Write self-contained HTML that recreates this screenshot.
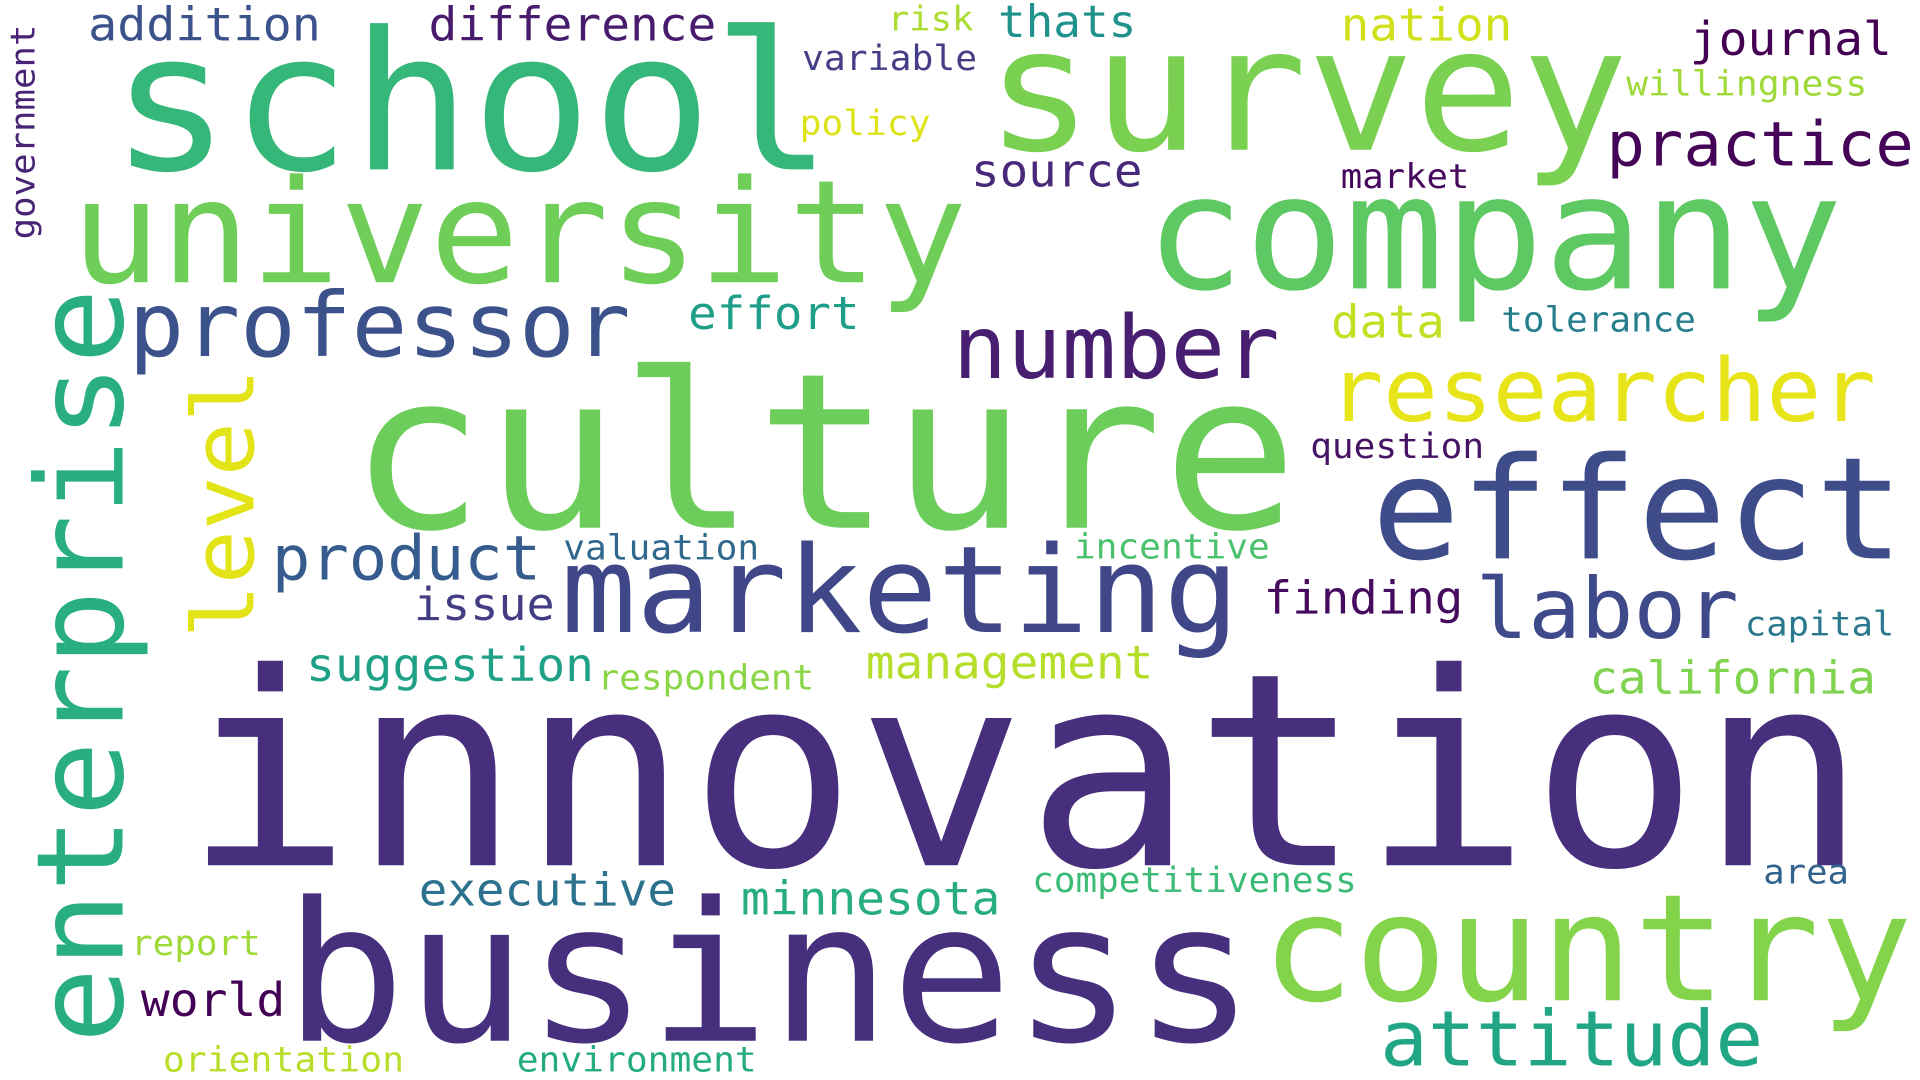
<!DOCTYPE html>
<html><head><meta charset="utf-8"><style>
html,body{margin:0;padding:0;background:#fff;width:1920px;height:1080px;overflow:hidden}
svg{display:block}
text{font-family:"DejaVu Sans Mono","Liberation Mono",monospace}
</style></head><body>
<svg id="cloud" width="1920" height="1080" viewBox="0 0 1568 880" preserveAspectRatio="none" xmlns="http://www.w3.org/2000/svg"></svg>
<script>
const words=["innovation","business","culture","school","survey","university","company","effect","marketing","country","professor","number","researcher","labor","product","practice","attitude","addition","difference","thats","risk","nation","journal","variable","willingness","policy","source","market","effort","data","tolerance","question","valuation","incentive","issue","finding","capital","suggestion","respondent","management","california","executive","minnesota","competitiveness","area","report","world","orientation","environment"];
const colors=["#472f7d","#46307e","#6ccd5a","#35b779","#7ad151","#6ece58","#5ec962","#3e4c8a","#3f4788","#84d44b","#3b528b","#481f70","#e7e419","#3e4a89","#365c8d","#450457","#21a685","#3b528b","#481b6d","#20928c","#addc30","#d0e11c","#440154","#433e85","#9fda3a","#dde318","#482878","#46085c","#1f9e89","#c2df23","#277f8e","#471365","#31688e","#4ac16d","#433d84","#460b5e","#2a788e","#1fa187","#8bd646","#b5de2b","#7fd34e","#2c718e","#27ad81","#3bbb75","#33638d","#a0da39","#440256","#b8de29","#25ab82"];
const L=[[150,705,1525],[232,848,1025],[285,430,1060],[90,138,680],[805,122,1330],[58,230,790],[935,235,1505],[1120,455,1555],[458,515,1012],[1030,815,1562],[105,290,515],[778,308,1045],[1085,343,1532],[1205,520,1420],[222,472,442],[1312,135,1563],[1127,868,1440],[72,33,262],[350,33,585],[815,30,928],[725,25,795],[1095,33,1235],[1380,45,1545],[655,57,798],[1328,78,1525],[653,110,760],[793,152,933],[1095,153,1200],[562,268,702],[1087,275,1180],[1226,270,1385],[1070,373,1212],[460,456,620],[877,455,1037],[338,505,453],[1032,500,1195],[1425,518,1547],[250,555,485],[488,562,665],[707,553,942],[1298,565,1532],[342,738,552],[605,745,817],[843,727,1108],[1440,720,1510],[107,778,213],[115,828,233],[133,873,330],[422,873,618]];
const vwords=["enterprise","level","government"];
const vcolors=["#29af7f","#e2e418","#482475"];
const V=[[100,850,235],[207,520,300],[28,195,20]];
const svg=document.getElementById('cloud');
const NS="http://www.w3.org/2000/svg";
function mk(t,x,y,w,fs,c,rot){
  const el=document.createElementNS(NS,'text');
  
  
  el.setAttribute('x',x);el.setAttribute('y',y);
  el.setAttribute('font-size',fs);el.setAttribute('fill',c);
  el.setAttribute('textLength',w);el.setAttribute('lengthAdjust','spacingAndGlyphs');
  if(rot) el.setAttribute('transform','rotate(-90 '+x+' '+y+')');
  el.textContent=t;svg.appendChild(el);
}
words.forEach((t,i)=>{const [x,y,r]=L[i];const w=r-x;mk(t,x,y,w,0.96*w/(t.length*0.602),colors[i],false);});
vwords.forEach((t,i)=>{const [bx,b,tp]=V[i];const w=b-tp;mk(t,bx,b,w,0.96*w/(t.length*0.602),vcolors[i],true);});
</script>
</body></html>
